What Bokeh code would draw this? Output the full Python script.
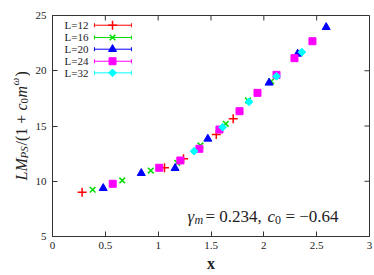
import math
from bokeh.plotting import figure
from bokeh.layouts import row
from bokeh.models import Range1d, FixedTicker, Label
from bokeh.core.properties import value
from bokeh.embed import file_html
from bokeh.resources import INLINE

# ---------------- data ----------------
x_L12 = [0.28, 1.06, 1.24, 1.55, 1.71]
y_L12 = [9.01, 11.22, 12.03, 14.23, 15.65]
x_L16 = [0.38, 0.66, 0.93, 1.18, 1.40, 1.64, 1.85, 2.07]
y_L16 = [9.23, 10.07, 10.97, 11.67, 13.24, 15.20, 17.31, 19.05]
x_L20 = [0.48, 0.84, 1.16, 1.47, 2.05, 2.32, 2.59]
y_L20 = [9.37, 10.73, 11.18, 13.84, 18.91, 21.53, 23.94]
x_L24 = [0.57, 1.01, 1.21, 1.39, 1.58, 1.77, 1.94, 2.12, 2.29, 2.46]
y_L24 = [9.77, 11.22, 11.88, 12.94, 14.68, 16.34, 18.00, 19.63, 21.14, 22.67]
x_L32 = [1.34, 1.61, 1.86, 2.12, 2.36]
y_L32 = [12.72, 14.89, 17.19, 19.50, 21.68]
series_labels = ["L=12", "L=16", "L=20", "L=24", "L=32"]
x_ticks = [0, 0.5, 1, 1.5, 2, 2.5, 3]
x_tick_labels = ["0", "0.5", "1", "1.5", "2", "2.5", "3"]
y_ticks = [5, 10, 15, 20, 25]
y_tick_labels = ["5", "10", "15", "20", "25"]

SERIF = "Liberation Serif"
INK = "#222222"
FRAME = "#333333"
X0, X1, Y0, Y1 = 0, 3, 5, 25

yr = Range1d(Y0, Y1)
p = figure(width=344, height=275, x_range=Range1d(X0, X1), y_range=yr,
           output_backend="svg", toolbar_location=None,
           min_border_left=22, min_border_right=5, min_border_top=15, min_border_bottom=39)
p.grid.visible = False
p.outline_line_color = FRAME
p.outline_line_width = 1


def style_axis(ax, ticks, labels):
    ax.ticker = FixedTicker(ticks=ticks)
    ax.major_tick_in = 5
    ax.major_tick_out = 0
    ax.minor_tick_line_color = None
    ax.axis_line_color = FRAME
    ax.major_tick_line_color = FRAME
    ax.major_label_overrides = dict(zip(ticks, labels))
    ax.major_label_text_font = SERIF
    ax.major_label_text_color = INK
    ax.major_label_text_font_size = "11px"
    ax.major_label_standoff = 6


style_axis(p.xaxis[0], x_ticks, x_tick_labels)
style_axis(p.yaxis[0], y_ticks, y_tick_labels)
p.xaxis[0].major_label_standoff = 5
p.xaxis[0].axis_label = "x"
p.xaxis[0].axis_label_text_font = SERIF
p.xaxis[0].axis_label_text_font_style = "bold"
p.xaxis[0].axis_label_text_font_size = "16px"
p.xaxis[0].axis_label_text_color = INK
p.xaxis[0].axis_label_standoff = 3

# mirrored inward ticks on top and right border (from the tick lists)
tick_len_y = 5 / 11.05
tick_len_x = 5 / 105.7
p.segment(x0=x_ticks, y0=[Y1] * len(x_ticks), x1=x_ticks, y1=[Y1 - tick_len_y] * len(x_ticks),
          line_color=FRAME, line_width=1)
p.segment(x0=[X1] * len(y_ticks), y0=y_ticks, x1=[X1 - tick_len_x] * len(y_ticks), y1=y_ticks,
          line_color=FRAME, line_width=1)

series = [
    (x_L12, y_L12, "#ff0000", dict(marker="cross", size=9, line_width=1.5)),
    (x_L16, y_L16, "#00dd00", dict(marker="x", size=8, line_width=1.5)),
    (x_L20, y_L20, "#0000ff", dict(marker="triangle", size=8, line_width=1)),
    (x_L24, y_L24, "#ff00ff", dict(marker="square", size=7, line_width=1)),
    (x_L32, y_L32, "#00ffff", dict(marker="square", size=5.5, line_width=1, angle=math.pi / 4)),
]

for xs, ys, col, st in series:
    p.scatter(xs, ys, fill_color=col, line_color=col, **st)

# ---------------- legend (gnuplot style: label, then sample) ----------------
leg_text_x = 0.34
leg_x0, leg_x1, leg_xm = 0.397, 0.747, 0.568
leg_rows = [24.12, 23.01, 21.95, 20.86, 19.81]
cap = 0.18
for (xs, ys, col, st), lab, ry in zip(series, series_labels, leg_rows):
    p.text(x=[leg_text_x], y=[ry], text=[lab], text_font=value(SERIF), text_font_size="11px",
           text_align="right", text_baseline="middle", text_color=INK)
    p.segment(x0=[leg_x0, leg_x0, leg_x1], y0=[ry, ry - cap, ry - cap],
              x1=[leg_x1, leg_x0, leg_x1], y1=[ry, ry + cap, ry + cap],
              line_color=col, line_width=1)
    p.scatter([leg_xm], [ry], fill_color=col, line_color=col, **st)

# ---------------- annotation ----------------
ann_x, ann_y = 1.277, 6.81
ann_pieces = [
    ("γ", "italic", "17px", 0, 0),
    ("m", "italic", "12px", 7, -4),
    ("= 0.234,", "normal", "17px", 18, 0),
    ("c", "italic", "17px", 80, 0),
    ("0", "normal", "12px", 87.5, -4),
    ("= −0.64", "normal", "17px", 98, 0),
]
for txt, style, size, dx, dy in ann_pieces:
    p.add_layout(Label(x=ann_x, y=ann_y, x_offset=dx, y_offset=dy, text=txt,
                       text_font=SERIF, text_font_style=style, text_font_size=size,
                       text_color=INK, text_align="left", text_baseline="alphabetic"))

# ---------------- y axis label (rotated pieces in a narrow side figure) ----------------
q = figure(width=30, height=275, x_range=Range1d(0, 30), y_range=yr,
           output_backend="svg", toolbar_location=None, x_axis_type=None, y_axis_type=None,
           min_border_left=0, min_border_right=0, min_border_top=15, min_border_bottom=39)
q.grid.visible = False
q.outline_line_color = None


def ref_y(py):
    return 5 + (236 - py) / 11.05


ylab_pieces = [
    ("LM", "italic", "16px", 180, 20.5),
    ("PS", "italic", "11px", 158, 23.5),
    ("/(1 +", "normal", "16px", 145, 20.5),
    ("c", "italic", "16px", 110, 20.5),
    ("0", "normal", "11px", 103, 23.5),
    ("m", "italic", "16px", 97, 20.5),
    ("ω", "italic", "11px", 85, 14.5),
    (")", "normal", "16px", 76, 20.5),
]
for txt, style, size, py, px in ylab_pieces:
    q.text(x=[px], y=[ref_y(py)], text=[txt], angle=math.pi / 2,
           text_font=value(SERIF), text_font_style=style, text_font_size=size,
           text_color=INK, text_align="left", text_baseline="alphabetic")

layout = row(q, p, spacing=0)
open("out.html", "w").write(file_html(layout, INLINE))
